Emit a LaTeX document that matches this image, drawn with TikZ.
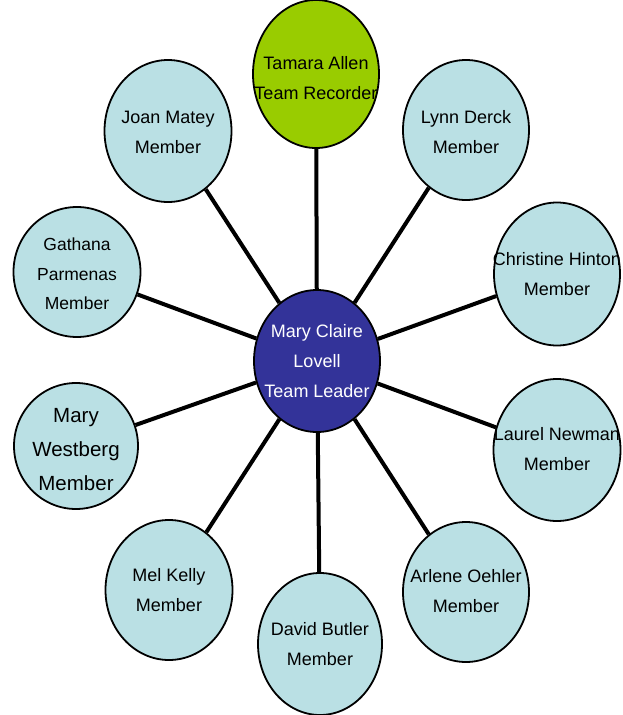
\documentclass[tikz,border=0pt]{standalone}
\usepackage{fontspec}
\setmainfont{Liberation Sans}
\usetikzlibrary{shapes.geometric}
\definecolor{memberfill}{RGB}{186,224,228}
\definecolor{leaderfill}{RGB}{51,51,153}
\definecolor{recorderfill}{RGB}{153,204,0}
\tikzset{
  oval/.style={ellipse, draw=black, line width=1.8pt, inner sep=0pt, fill=memberfill},
  member/.style={oval},
  leader/.style={oval, fill=leaderfill},
  recorder/.style={oval, fill=recorderfill},
  txt/.style={align=center, inner sep=0pt, font=\fontsize{18}{30}\selectfont},
  bigtxt/.style={align=center, inner sep=0pt, font=\fontsize{20.5}{34}\selectfont},
  midtxt/.style={align=center, inner sep=0pt, font=\fontsize{17.5}{29.5}\selectfont},
  wtxt/.style={txt, text=white},
  link/.style={draw=black, line width=4pt}
}
\begin{document}
\begin{tikzpicture}[x=1pt,y=-1pt]
\useasboundingbox (0,0) rectangle (623,715);
\node[leader, minimum width=126pt, minimum height=142pt, label={[wtxt]center:Mary Claire\\Lovell\\Team Leader}] (L) at (317,361) {};
\node[recorder, minimum width=126pt, minimum height=148pt, label={[txt,yshift=-4pt]center:Tamara Allen\\Team Recorder}] (TA) at (316,74) {};
\node[member, minimum width=127pt, minimum height=142pt, label={[txt,yshift=-1pt]center:Joan Matey\\Member}] (JM) at (168,131) {};
\node[member, minimum width=126pt, minimum height=140pt, label={[txt,yshift=-2pt]center:Lynn Derck\\Member}] (LD) at (466,130) {};
\node[member, minimum width=127pt, minimum height=130pt, label={[midtxt,yshift=-2pt]center:Gathana\\Parmenas\\Member}] (GP) at (77,272) {};
\node[member, minimum width=126pt, minimum height=143pt, label={[txt]center:Christine Hinton\\Member}] (CH) at (557,274) {};
\node[member, minimum width=124pt, minimum height=126pt, label={[bigtxt,yshift=-4pt]center:Mary\\Westberg\\Member}] (MW) at (76,446) {};
\node[member, minimum width=127pt, minimum height=142pt, label={[txt,yshift=1pt]center:Laurel Newman\\Member}] (LN) at (557,450) {};
\node[member, minimum width=126pt, minimum height=140pt, label={[txt,yshift=1pt]center:Arlene Oehler\\Member}] (AO) at (466,592) {};
\node[member, minimum width=127pt, minimum height=140pt, label={[txt]center:Mel Kelly\\Member}] (MK) at (169,590) {};
\node[member, minimum width=124pt, minimum height=142pt, label={[txt]center:David Butler\\Member}] (DB) at (320,644) {};
\foreach \n in {TA,JM,LD,GP,CH,MW,LN,AO,MK,DB}
  \draw[link] (L) -- (\n);
\end{tikzpicture}
\end{document}
